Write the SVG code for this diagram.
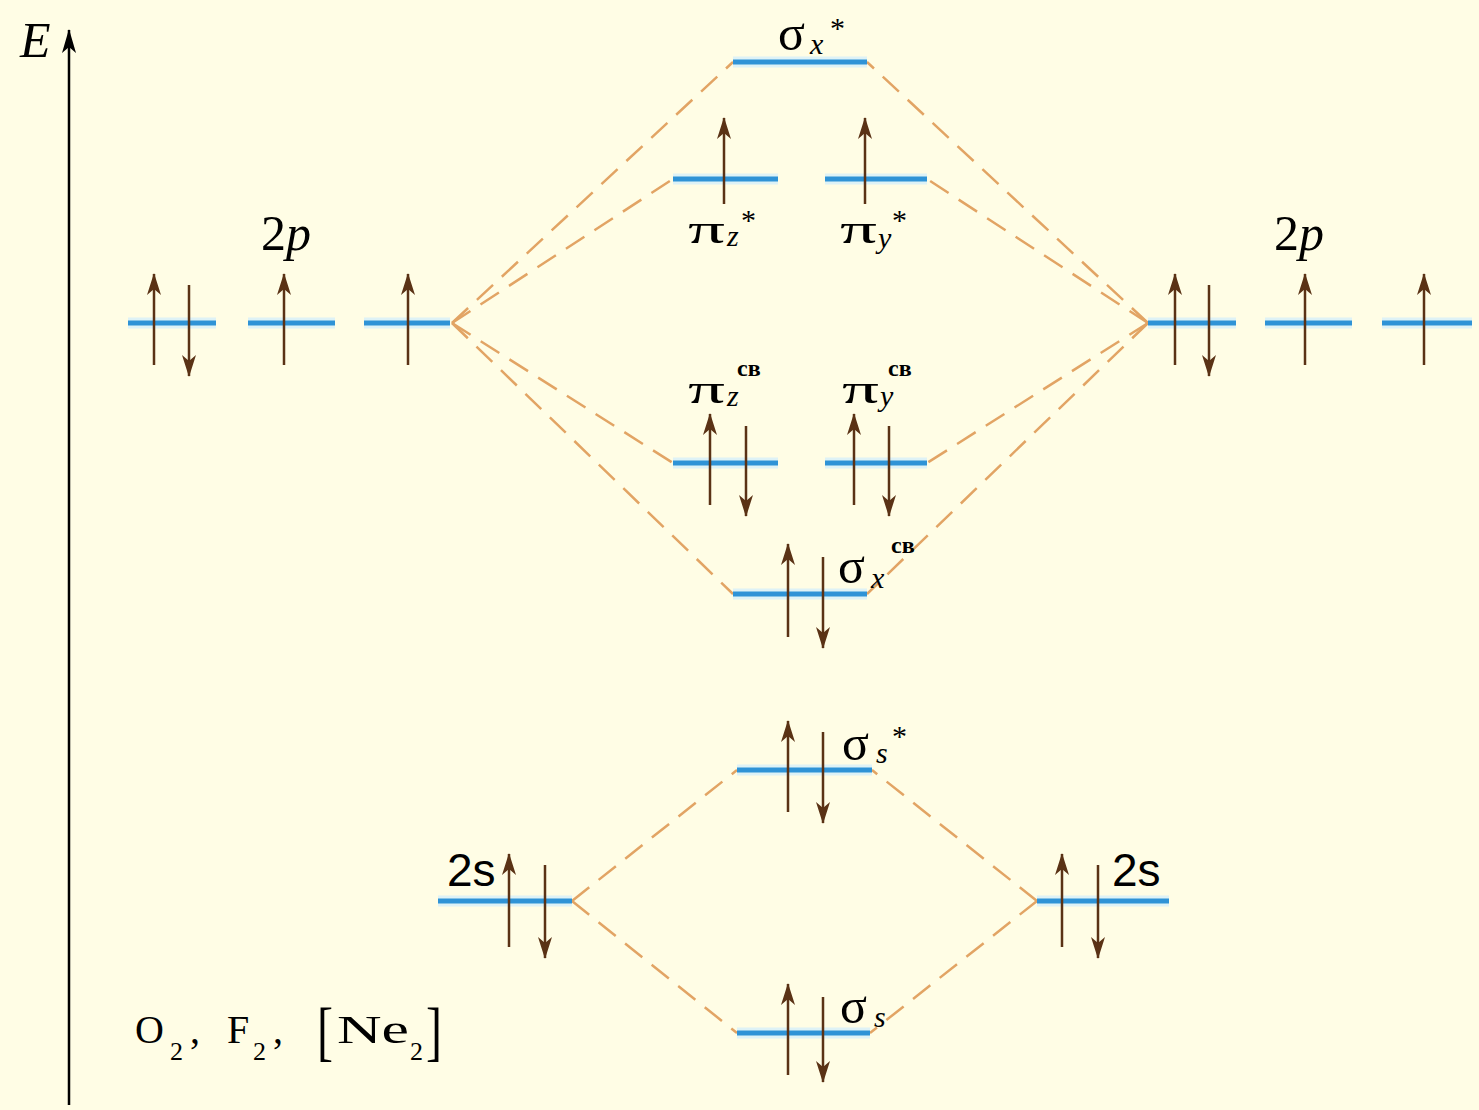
<svg xmlns="http://www.w3.org/2000/svg" width="1479" height="1110" viewBox="0 0 1479 1110">
<style>
.lvl{stroke:#2f93d6;stroke-width:5;}
.glow{stroke:#d6f0fb;stroke-width:11;opacity:0.8;}
.el{stroke:#5a3215;stroke-width:2.5;fill:none;}
.up{marker-end:url(#ah);}
.dn{marker-end:url(#ah);}
.con{stroke:#e2a464;stroke-width:2.5;stroke-dasharray:22 12;fill:none;}
.t{font-family:"Liberation Serif","DejaVu Serif",serif;fill:#000;}
.g{font-size:50px;}
.p{font-size:42px;}
.sub{font-size:30px;font-style:italic;}
.st{font-size:30px;}
.cb{font-size:24px;font-weight:bold;}
.m{font-size:40px;}
.ms{font-size:26px;}
.br{font-size:66px;}
</style>
<defs>
<marker id="ah" markerUnits="userSpaceOnUse" markerWidth="22" markerHeight="16" viewBox="0 0 22 16" refX="21" refY="8" orient="auto">
<path d="M0,1 L22,8 L0,15 L6,8 z" fill="#5a3215"/>
</marker>
<marker id="ax" markerUnits="userSpaceOnUse" markerWidth="24" markerHeight="16" viewBox="0 0 24 16" refX="23" refY="8" orient="auto">
<path d="M0,1 L24,8 L0,15 L6,8 z" fill="#000"/>
</marker>
</defs>
<rect width="1479" height="1110" fill="#fffde5"/>

<g id="axis">
<line x1="69" y1="1105" x2="69" y2="30" stroke="#000" stroke-width="2.5" marker-end="url(#ax)"/>
<text class="t" x="20" y="57" font-size="50" font-style="italic">E</text>
</g>

<g id="connectors">
<line class="con" x1="452" y1="323" x2="733" y2="62"/>
<line class="con" x1="452" y1="323" x2="673" y2="179"/>
<line class="con" x1="452" y1="323" x2="673" y2="463"/>
<line class="con" x1="452" y1="323" x2="733" y2="594"/>
<line class="con" x1="1148" y1="323" x2="867" y2="62"/>
<line class="con" x1="1148" y1="323" x2="927" y2="179"/>
<line class="con" x1="1148" y1="323" x2="927" y2="463"/>
<line class="con" x1="1148" y1="323" x2="867" y2="594"/>
<line class="con" x1="572" y1="901" x2="737" y2="770"/>
<line class="con" x1="572" y1="901" x2="737" y2="1033"/>
<line class="con" x1="1037" y1="901" x2="872" y2="770"/>
<line class="con" x1="1037" y1="901" x2="870" y2="1033"/>
</g>

<g id="left-2p">
<line class="glow" x1="128" y1="323" x2="216" y2="323"/>
<line class="glow" x1="248" y1="323" x2="335" y2="323"/>
<line class="glow" x1="364" y1="323" x2="450" y2="323"/>
<line class="lvl" x1="128" y1="323" x2="216" y2="323"/>
<line class="lvl" x1="248" y1="323" x2="335" y2="323"/>
<line class="lvl" x1="364" y1="323" x2="450" y2="323"/>
<line class="el up" x1="154" y1="365" x2="154" y2="274"/>
<line class="el dn" x1="189" y1="285" x2="189" y2="376"/>
<line class="el up" x1="284" y1="365" x2="284" y2="274"/>
<line class="el up" x1="408" y1="365" x2="408" y2="274"/>
<text class="t" x="261" y="250" font-size="50">2<tspan font-style="italic">p</tspan></text>
</g>

<g id="right-2p">
<line class="glow" x1="1148" y1="323" x2="1236" y2="323"/>
<line class="glow" x1="1265" y1="323" x2="1352" y2="323"/>
<line class="glow" x1="1382" y1="323" x2="1472" y2="323"/>
<line class="lvl" x1="1148" y1="323" x2="1236" y2="323"/>
<line class="lvl" x1="1265" y1="323" x2="1352" y2="323"/>
<line class="lvl" x1="1382" y1="323" x2="1472" y2="323"/>
<line class="el up" x1="1175" y1="365" x2="1175" y2="274"/>
<line class="el dn" x1="1209" y1="285" x2="1209" y2="376"/>
<line class="el up" x1="1305" y1="365" x2="1305" y2="274"/>
<line class="el up" x1="1424" y1="365" x2="1424" y2="274"/>
<text class="t" x="1274" y="250" font-size="50">2<tspan font-style="italic">p</tspan></text>
</g>

<g id="sigma-x-star">
<line class="glow" x1="733" y1="62" x2="867" y2="62"/>
<line class="lvl" x1="733" y1="62" x2="867" y2="62"/>
<text class="t g" x="778" y="50">σ</text>
<text class="t sub" x="810" y="54">x</text>
<text class="t st" x="830" y="38">*</text>
</g>

<g id="pi-z-star">
<line class="glow" x1="673" y1="179" x2="778" y2="179"/>
<line class="lvl" x1="673" y1="179" x2="778" y2="179"/>
<line class="el up" x1="724" y1="204" x2="724" y2="118"/>
<text class="t p" x="688" y="243" textLength="37" lengthAdjust="spacingAndGlyphs">π</text>
<text class="t sub" x="727" y="246">z</text>
<text class="t st" x="741" y="230">*</text>
</g>

<g id="pi-y-star">
<line class="glow" x1="825" y1="179" x2="927" y2="179"/>
<line class="lvl" x1="825" y1="179" x2="927" y2="179"/>
<line class="el up" x1="865" y1="204" x2="865" y2="118"/>
<text class="t p" x="840" y="243" textLength="37" lengthAdjust="spacingAndGlyphs">π</text>
<text class="t sub" x="878" y="248">y</text>
<text class="t st" x="892" y="230">*</text>
</g>

<g id="pi-z-cb">
<line class="glow" x1="673" y1="463" x2="778" y2="463"/>
<line class="lvl" x1="673" y1="463" x2="778" y2="463"/>
<line class="el up" x1="710" y1="505" x2="710" y2="414"/>
<line class="el dn" x1="746" y1="426" x2="746" y2="516"/>
<text class="t p" x="688" y="403" textLength="37" lengthAdjust="spacingAndGlyphs">π</text>
<text class="t sub" x="727" y="406">z</text>
<text class="t cb" x="737" y="376">св</text>
</g>

<g id="pi-y-cb">
<line class="glow" x1="825" y1="463" x2="927" y2="463"/>
<line class="lvl" x1="825" y1="463" x2="927" y2="463"/>
<line class="el up" x1="854" y1="505" x2="854" y2="414"/>
<line class="el dn" x1="889" y1="426" x2="889" y2="516"/>
<text class="t p" x="842" y="403" textLength="37" lengthAdjust="spacingAndGlyphs">π</text>
<text class="t sub" x="880" y="406">y</text>
<text class="t cb" x="888" y="376">св</text>
</g>

<g id="sigma-x-cb">
<line class="glow" x1="733" y1="594" x2="867" y2="594"/>
<line class="lvl" x1="733" y1="594" x2="867" y2="594"/>
<line class="el up" x1="788" y1="637" x2="788" y2="544"/>
<line class="el dn" x1="823" y1="557" x2="823" y2="648"/>
<text class="t g" x="838" y="583">σ</text>
<text class="t sub" x="871" y="588">x</text>
<text class="t cb" x="891" y="553">св</text>
</g>

<g id="sigma-s-star">
<line class="glow" x1="737" y1="770" x2="872" y2="770"/>
<line class="lvl" x1="737" y1="770" x2="872" y2="770"/>
<line class="el up" x1="788" y1="812" x2="788" y2="721"/>
<line class="el dn" x1="823" y1="732" x2="823" y2="823"/>
<text class="t g" x="842" y="760">σ</text>
<text class="t sub" x="876" y="763">s</text>
<text class="t st" x="892" y="746">*</text>
</g>

<g id="left-2s">
<line class="glow" x1="438" y1="901" x2="572" y2="901"/>
<line class="lvl" x1="438" y1="901" x2="572" y2="901"/>
<line class="el up" x1="509" y1="947" x2="509" y2="854"/>
<line class="el dn" x1="545" y1="865" x2="545" y2="958"/>
<text x="447" y="886" font-size="46" style="font-family:'Liberation Sans',sans-serif">2s</text>
</g>

<g id="right-2s">
<line class="glow" x1="1037" y1="901" x2="1169" y2="901"/>
<line class="lvl" x1="1037" y1="901" x2="1169" y2="901"/>
<line class="el up" x1="1062" y1="947" x2="1062" y2="854"/>
<line class="el dn" x1="1098" y1="865" x2="1098" y2="958"/>
<text x="1112" y="886" font-size="46" style="font-family:'Liberation Sans',sans-serif">2s</text>
</g>

<g id="sigma-s">
<line class="glow" x1="737" y1="1033" x2="870" y2="1033"/>
<line class="lvl" x1="737" y1="1033" x2="870" y2="1033"/>
<line class="el up" x1="788" y1="1075" x2="788" y2="984"/>
<line class="el dn" x1="823" y1="997" x2="823" y2="1082"/>
<text class="t g" x="840" y="1023">σ</text>
<text class="t sub" x="874" y="1027">s</text>
</g>

<g id="molecules">
<text class="t m" x="135" y="1043">O</text>
<text class="t ms" x="170" y="1060">2</text>
<text class="t m" x="190" y="1043">,</text>
<text class="t m" x="227" y="1043">F</text>
<text class="t ms" x="253" y="1060">2</text>
<text class="t m" x="273" y="1043">,</text>
<text class="t br" x="317" y="1053" textLength="16" lengthAdjust="spacingAndGlyphs">[</text>
<text class="t m" x="337" y="1043" textLength="72" lengthAdjust="spacingAndGlyphs">Ne</text>
<text class="t ms" x="410" y="1060">2</text>
<text class="t br" x="426" y="1053" textLength="16" lengthAdjust="spacingAndGlyphs">]</text>
</g>
</svg>
